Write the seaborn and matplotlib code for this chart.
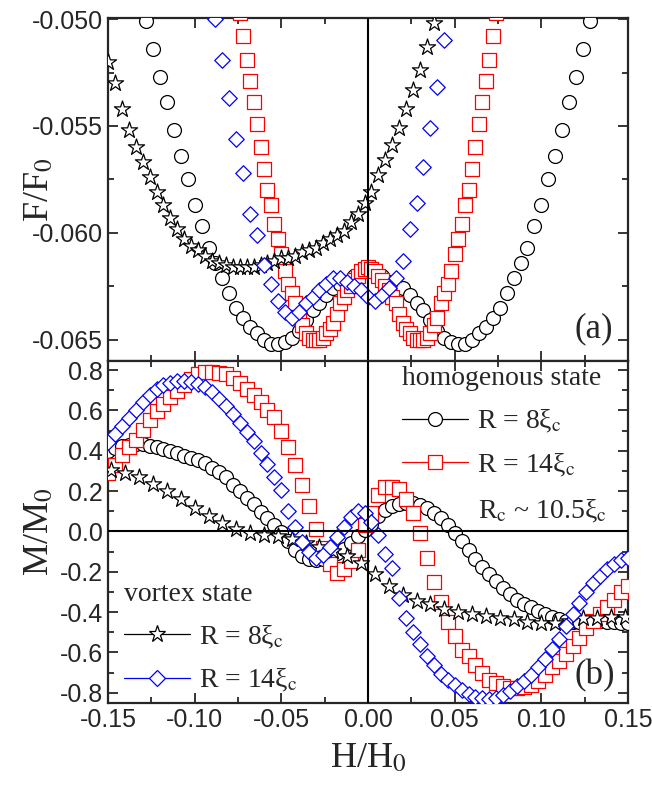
import numpy as np
import matplotlib
matplotlib.use("Agg")
import matplotlib.pyplot as plt
import seaborn as sns
from matplotlib.lines import Line2D
from matplotlib.ticker import MultipleLocator, FormatStrFormatter

# ---- panel (a): free energy F/F0 vs H/H0 ----
h_a_circ = np.linspace(-0.128, 0.128, 65)      # homogenous, R = 8
f_a_circ = [-0.0501, -0.0514, -0.0527, -0.0539, -0.0552, -0.0564, -0.0575, -0.0587, -0.0597, -0.0607,
            -0.0614, -0.0621, -0.0628, -0.0635, -0.0640, -0.0644, -0.0647, -0.0650, -0.0652, -0.0652,
            -0.0651, -0.0649, -0.0646, -0.0641, -0.0636, -0.0633, -0.0629, -0.0626, -0.0624, -0.0623,
            -0.0620, -0.0618, -0.0617, -0.0618, -0.0620, -0.0623, -0.0624, -0.0626, -0.0629, -0.0633,
            -0.0636, -0.0641, -0.0646, -0.0649, -0.0651, -0.0652, -0.0652, -0.0650, -0.0647, -0.0644,
            -0.0640, -0.0635, -0.0628, -0.0621, -0.0614, -0.0607, -0.0597, -0.0587, -0.0575, -0.0564,
            -0.0552, -0.0539, -0.0527, -0.0514, -0.0501]

h_a_sq = np.linspace(-0.074, 0.074, 75)        # homogenous, R = 14
f_a_sq = [-0.0497, -0.0508, -0.0519, -0.0529, -0.0539, -0.0549, -0.0560, -0.0570, -0.0580, -0.0587,
          -0.0596, -0.0603, -0.0610, -0.0618, -0.0624, -0.0628, -0.0633, -0.0640, -0.0643, -0.0647,
          -0.0649, -0.0650, -0.0650, -0.0650, -0.0649, -0.0647, -0.0645, -0.0642, -0.0638, -0.0633,
          -0.0630, -0.0627, -0.0625, -0.0622, -0.0620, -0.0618, -0.0617, -0.0616, -0.0617, -0.0618,
          -0.0620, -0.0622, -0.0625, -0.0627, -0.0630, -0.0633, -0.0638, -0.0642, -0.0645, -0.0647,
          -0.0649, -0.0650, -0.0650, -0.0650, -0.0649, -0.0647, -0.0643, -0.0640, -0.0633, -0.0628,
          -0.0624, -0.0618, -0.0610, -0.0603, -0.0596, -0.0587, -0.0580, -0.0570, -0.0560, -0.0549,
          -0.0539, -0.0529, -0.0519, -0.0508, -0.0497]

h_a_star = np.linspace(-0.150, 0.038, 48)      # vortex, R = 8
f_a_star = [-0.0520, -0.0530, -0.0542, -0.0552, -0.0560, -0.0567, -0.0574, -0.0581, -0.0587, -0.0593,
            -0.0598, -0.0603, -0.0606, -0.0608, -0.0611, -0.0613, -0.0614, -0.0615, -0.0616, -0.0616,
            -0.0616, -0.0616, -0.0615, -0.0614, -0.0613, -0.0612, -0.0612, -0.0611, -0.0609, -0.0608,
            -0.0607, -0.0605, -0.0603, -0.0601, -0.0599, -0.0595, -0.0591, -0.0586, -0.0581, -0.0573,
            -0.0566, -0.0559, -0.0551, -0.0542, -0.0533, -0.0524, -0.0513, -0.0502]

h_a_dia = np.linspace(-0.088, 0.044, 34)       # vortex, R = 14
f_a_dia = [-0.0500, -0.0519, -0.0537, -0.0556, -0.0572, -0.0591, -0.0601, -0.0615, -0.0624, -0.0632,
           -0.0637, -0.0640, -0.0637, -0.0633, -0.0630, -0.0627, -0.0624, -0.0621, -0.0621, -0.0623,
           -0.0625, -0.0627, -0.0630, -0.0632, -0.0629, -0.0626, -0.0621, -0.0613, -0.0598, -0.0586,
           -0.0569, -0.0551, -0.0532, -0.0510]

# ---- panel (b): magnetization M/M0 vs H/H0 ----
h_b = np.linspace(-0.150, 0.150, 76)
m_b_circ = [0.400, 0.415, 0.425, 0.430, 0.432, 0.432, 0.425, 0.418, 0.410, 0.400,
            0.388, 0.376, 0.365, 0.352, 0.337, 0.316, 0.295, 0.268, 0.232, 0.202,
            0.168, 0.135, 0.098, 0.066, 0.030, -0.005, -0.050, -0.090, -0.120, -0.137,
            -0.141, -0.135, -0.122, -0.105, -0.085, -0.060, -0.025, 0.005, 0.035, 0.075,
            0.105, 0.125, 0.136, 0.143, 0.143, 0.133, 0.118, 0.090, 0.064, 0.030,
            -0.010, -0.050, -0.090, -0.135, -0.175, -0.210, -0.245, -0.280, -0.313, -0.340,
            -0.358, -0.375, -0.395, -0.410, -0.425, -0.436, -0.446, -0.449, -0.449, -0.448,
            -0.446, -0.446, -0.448, -0.450, -0.453, -0.455]
m_b_sq = [0.29, 0.33, 0.38, 0.42, 0.455, 0.505, 0.55, 0.595, 0.63, 0.665,
          0.695, 0.725, 0.755, 0.78, 0.79, 0.79, 0.785, 0.78, 0.76, 0.735,
          0.705, 0.675, 0.64, 0.60, 0.565, 0.50, 0.42, 0.33, 0.23, 0.125,
          0.01, -0.08, -0.16, -0.205, -0.185, -0.145, -0.09, 0.03, 0.09, 0.18,
          0.22, 0.22, 0.21, 0.16, 0.09, -0.01, -0.13, -0.25, -0.35, -0.45,
          -0.52, -0.59, -0.62, -0.665, -0.70, -0.735, -0.75, -0.765, -0.775, -0.778,
          -0.772, -0.76, -0.74, -0.71, -0.675, -0.645, -0.61, -0.57, -0.53, -0.48,
          -0.445, -0.41, -0.375, -0.34, -0.30, -0.27]
m_b_dia = [0.441, 0.481, 0.521, 0.56, 0.60, 0.64, 0.675, 0.705, 0.725, 0.738,
           0.745, 0.745, 0.740, 0.730, 0.715, 0.69, 0.655, 0.62, 0.58, 0.54,
           0.495, 0.45, 0.39, 0.335, 0.27, 0.205, 0.10, 0.02, -0.055, -0.10,
           -0.13, -0.115, -0.075, -0.03, 0.02, 0.07, 0.10, 0.09, 0.045, -0.02,
           -0.11, -0.18, -0.33, -0.43, -0.50, -0.56, -0.62, -0.665, -0.705, -0.735,
           -0.76, -0.785, -0.805, -0.82, -0.828, -0.832, -0.828, -0.812, -0.793, -0.767,
           -0.742, -0.712, -0.675, -0.635, -0.585, -0.535, -0.468, -0.41, -0.355, -0.30,
           -0.258, -0.222, -0.185, -0.16, -0.142, -0.13]
h_b_star = np.linspace(-0.148, 0.148, 38)
m_b_star = [0.305, 0.29, 0.27, 0.237, 0.20, 0.16, 0.118, 0.078, 0.042, 0.012,
            -0.008, -0.02, -0.025, -0.04, -0.06, -0.075, -0.095, -0.12, -0.155, -0.21,
            -0.27, -0.315, -0.345, -0.362, -0.385, -0.40, -0.41, -0.42, -0.428, -0.437,
            -0.447, -0.452, -0.454, -0.445, -0.432, -0.43, -0.427, -0.425]

sns.set_style("ticks")
plt.rcParams['font.family'] = ['Liberation Sans', 'DejaVu Sans']
plt.rcParams['mathtext.fontset'] = 'stix'
plt.rcParams['axes.unicode_minus'] = False

SERIF = ['Liberation Serif', 'DejaVu Serif']
RED, BLUE = '#ff0000', '#0000ff'

# marker style per series: (marker, size^2, edge colour)
styles = {
    'circ': ('o', 100, 'black'),
    'sq': ('s', 95, RED),
    'star': ('*', 150, 'black'),
    'dia': ('D', 62, BLUE),
}

fig = plt.figure(figsize=(6.52, 7.91), dpi=100)
ax_a = fig.add_axes([0.1656, 0.5436, 0.7976, 0.4336])
ax_b = fig.add_axes([0.1656, 0.1113, 0.7976, 0.4323])


def draw(ax, x, y, key):
    mk, s, ec = styles[key]
    sns.scatterplot(x=x, y=y, ax=ax, marker=mk, s=s, color='white',
                    edgecolor=ec, linewidth=0.9, zorder=3, legend=False)


draw(ax_a, h_a_circ, f_a_circ, 'circ')
draw(ax_a, h_a_sq, f_a_sq, 'sq')
draw(ax_a, h_a_star, f_a_star, 'star')
draw(ax_a, h_a_dia, f_a_dia, 'dia')

draw(ax_b, h_b, m_b_circ, 'circ')
draw(ax_b, h_b, m_b_sq, 'sq')
draw(ax_b, h_b_star, m_b_star, 'star')
draw(ax_b, h_b, m_b_dia, 'dia')

for ax in (ax_a, ax_b):
    ax.set_xlim(-0.15, 0.15)
    ax.axvline(0, color='black', lw=1.5, zorder=5)
    ax.xaxis.set_major_locator(MultipleLocator(0.05))
    ax.xaxis.set_minor_locator(MultipleLocator(0.025))
    ax.xaxis.set_major_formatter(FormatStrFormatter('%.2f'))
    ax.tick_params(which='both', direction='in', top=True, right=True, width=1.3,
                   labelsize=18)
    ax.tick_params(which='major', length=7)
    ax.tick_params(which='minor', length=4)
    for sp in ax.spines.values():
        sp.set_linewidth(1.6)

ax_b.axhline(0, color='black', lw=1.5, zorder=5)

ax_a.set_ylim(-0.0660, -0.04995)
ax_a.yaxis.set_major_locator(MultipleLocator(0.005))
ax_a.yaxis.set_minor_locator(MultipleLocator(0.0025))
ax_a.yaxis.set_major_formatter(FormatStrFormatter('%.3f'))
ax_a.tick_params(labelbottom=False)
ax_a.set_xlabel('')

ax_b.set_ylim(-0.851, 0.845)
ax_b.yaxis.set_major_locator(MultipleLocator(0.2))
ax_b.yaxis.set_minor_locator(MultipleLocator(0.1))
ax_b.yaxis.set_major_formatter(FormatStrFormatter('%.1f'))

ax_a.set_ylabel('F/F$_0$', family=SERIF, fontsize=26)
ax_b.set_ylabel('M/M$_0$', family=SERIF, fontsize=26)
ax_b.set_xlabel('H/H$_0$', family=SERIF, fontsize=26)
ax_a.yaxis.set_label_coords(-0.10, 0.5)
ax_b.yaxis.set_label_coords(-0.10, 0.5)
ax_b.xaxis.set_label_coords(0.5, -0.115)

ax_a.text(0.972, 0.045, '(a)', transform=ax_a.transAxes, ha='right', va='bottom',
          family=SERIF, fontsize=25)
ax_b.text(0.975, 0.03, '(b)', transform=ax_b.transAxes, ha='right', va='bottom',
          family=SERIF, fontsize=25)


def handle(key):
    mk, s, ec = styles[key]
    return Line2D([], [], color=ec, lw=0.9, marker=mk, markersize=np.sqrt(s),
                  markerfacecolor='white', markeredgecolor=ec, markeredgewidth=0.9)


leg_font = {'family': SERIF, 'size': 20}
leg_h = ax_b.legend([handle('circ'), handle('sq')],
                    ['R = 8ξ$_{\\rm c}$', 'R = 14ξ$_{\\rm c}$'],
                    title='homogenous state', title_fontproperties=leg_font,
                    prop=leg_font, loc='upper left', bbox_to_anchor=(0.565, 0.985),
                    frameon=False, borderpad=0, borderaxespad=0, handlelength=2.4,
                    handletextpad=0.3, labelspacing=0.6)
leg_h._legend_box.align = 'left'
ax_b.add_artist(leg_h)

leg_v = ax_b.legend([handle('star'), handle('dia')],
                    ['R = 8ξ$_{\\rm c}$', 'R = 14ξ$_{\\rm c}$'],
                    title='vortex state', title_fontproperties=leg_font,
                    prop=leg_font, loc='lower left', bbox_to_anchor=(0.03, 0.025),
                    frameon=False, borderpad=0, borderaxespad=0, handlelength=2.4,
                    handletextpad=0.3, labelspacing=0.6)
leg_v._legend_box.align = 'left'

ax_b.text(0.712, 0.56, 'R$_{\\rm c}$ ~ 10.5ξ$_{\\rm c}$', transform=ax_b.transAxes,
          ha='left', va='center', family=SERIF, fontsize=20)

fig.savefig('out.png', dpi=100)
